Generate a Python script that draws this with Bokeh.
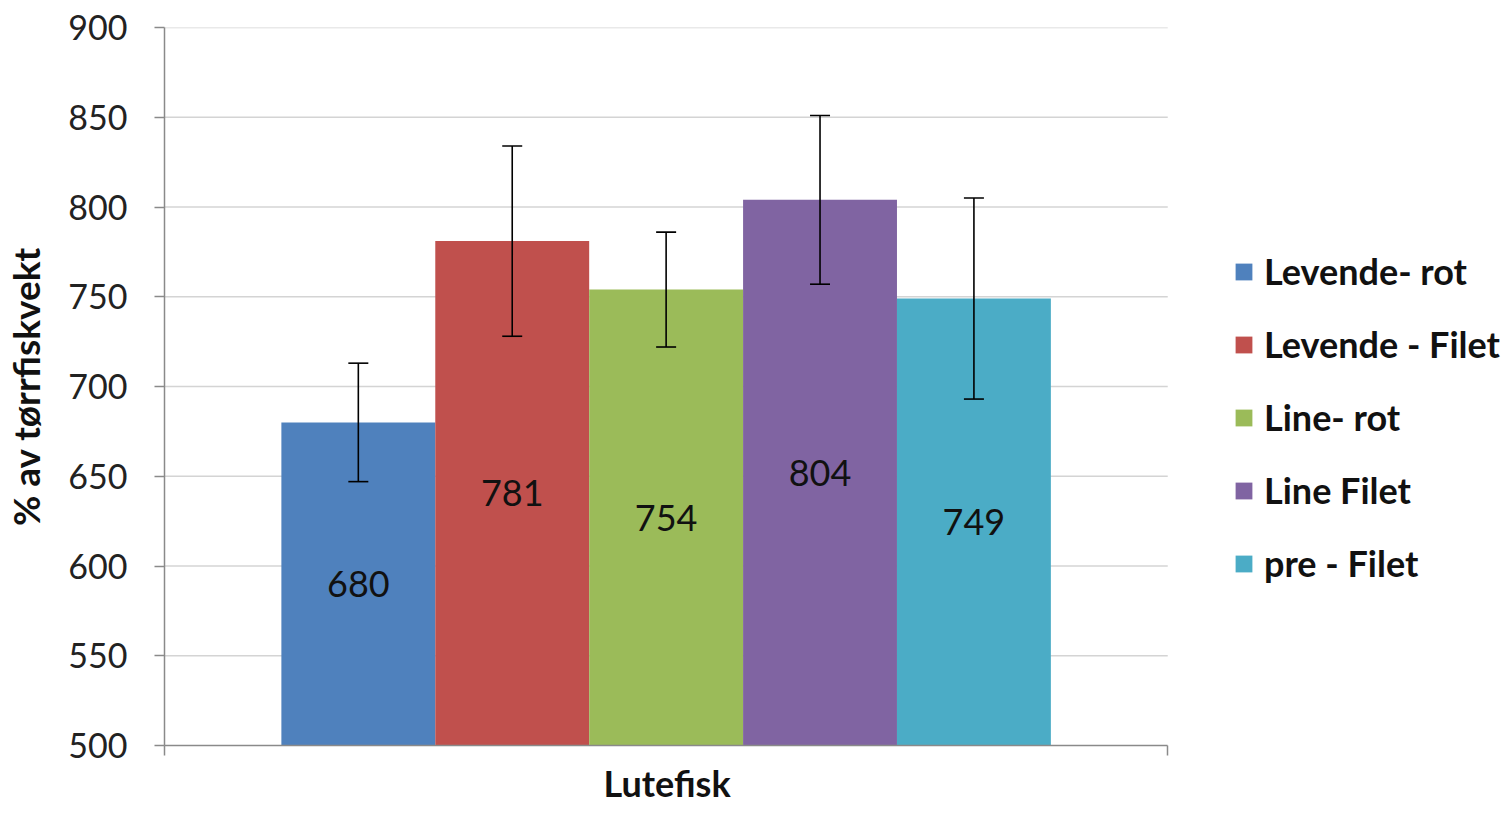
from bokeh.plotting import figure
from bokeh.models import (Range1d, FixedTicker, Whisker, ColumnDataSource, Legend,
                          LegendItem, TeeHead, Title)
from bokeh.core.properties import value
from bokeh.embed import file_html
from bokeh.resources import INLINE

# ---- data ----
category = "Lutefisk"
series = ["Levende- rot", "Levende - Filet", "Line- rot", "Line Filet", "pre - Filet"]
values = [680, 781, 754, 804, 749]
errors = [33, 53, 32, 47, 56]
colors = ["#4F81BD", "#C0504D", "#9BBB59", "#8064A2", "#4BACC6"]
y_ticks = [500, 550, 600, 650, 700, 750, 800, 850, 900]
y_title = "% av tørrfiskvekt"

Y0, Y1 = y_ticks[0], y_ticks[-1]
bar_w = 0.1534
n = len(series)
xs = [0.5 + (i - (n - 1) / 2) * bar_w for i in range(n)]

# layout: plot area 1004px wide, legend space to its right inside the same frame
W, H = 1503, 807
LEFT, TOP, BOTTOM = 163, 27, 59
PLOT_W = 1004
X_END = (W - LEFT) / PLOT_W

src = ColumnDataSource(dict(
    x=xs, top=values, color=colors, name=series,
    upper=[v + e for v, e in zip(values, errors)],
    lower=[v - e for v, e in zip(values, errors)],
    ymid=[(Y0 + v) / 2 for v in values],
    txt=[str(v) for v in values],
))

p = figure(width=W, height=H, output_backend="svg", toolbar_location=None,
           x_range=Range1d(0, X_END), y_range=Range1d(Y0, Y1),
           min_border_left=LEFT, min_border_top=TOP, min_border_bottom=BOTTOM,
           min_border_right=0)
p.outline_line_color = None
p.background_fill_color = "white"
p.border_fill_color = "white"

# gridlines limited to the plot area
p.segment(x0=0, x1=1, y0=y_ticks[1:], y1=y_ticks[1:], line_color="#d4d4d4",
          line_width=1.5, level="underlay")

renderers = []
for i in range(n):
    r = p.vbar(x=[xs[i]], top=[values[i]], bottom=Y0, width=bar_w,
               fill_color=colors[i], line_color=None)
    renderers.append(r)

p.text(x="x", y="ymid", text="txt", source=src, text_align="center",
       text_baseline="middle", text_font=value("Lato"), text_font_size="36px",
       text_color="#111111")

w = Whisker(base="x", upper="upper", lower="lower", source=src, level="overlay",
            line_color="black", line_width=1.6,
            upper_head=TeeHead(size=20, line_color="black", line_width=1.6),
            lower_head=TeeHead(size=20, line_color="black", line_width=1.6))
p.add_layout(w)

# axes
p.yaxis.ticker = FixedTicker(ticks=y_ticks)
p.yaxis.major_label_text_font = "Lato"
p.yaxis.major_label_text_font_size = "34px"
p.yaxis.major_label_text_color = "#222222"
p.yaxis.major_tick_out = 10
p.yaxis.major_tick_in = 0
p.yaxis.minor_tick_line_color = None
p.yaxis.axis_line_color = "#8a8a8a"
p.yaxis.axis_line_width = 1.5
p.yaxis.major_tick_line_color = "#8a8a8a"
p.yaxis.major_tick_line_width = 1.5
p.yaxis.major_label_standoff = 27
p.yaxis.axis_label = y_title
p.yaxis.axis_label_text_font = "Lato"
p.yaxis.axis_label_text_font_style = "bold"
p.yaxis.axis_label_text_font_size = "37px"
p.yaxis.axis_label_text_color = "#111111"
p.yaxis.axis_label_standoff = 17

p.xaxis.ticker = FixedTicker(ticks=[0, 1])
p.xaxis.bounds = (0, 1)
p.xaxis.major_label_overrides = {0: "", 1: ""}
p.xaxis.major_label_text_font_size = "0px"
p.xaxis.major_label_standoff = 0
p.xaxis.major_tick_out = 10
p.xaxis.major_tick_in = 0
p.xaxis.minor_tick_line_color = None
p.xaxis.axis_line_color = "#8a8a8a"
p.xaxis.axis_line_width = 1.5
p.xaxis.major_tick_line_color = "#8a8a8a"
p.xaxis.major_tick_line_width = 1.5

p.xgrid.grid_line_color = None
p.ygrid.grid_line_color = None

# category title centred under the plot area (not under the legend space)
x_title = Title(text=category, align="left", offset=PLOT_W / 2 - 63,
                text_font="Lato", text_font_style="bold", text_font_size="36px",
                text_color="#111111", standoff=6)
p.add_layout(x_title, "below")

legend = Legend(items=[LegendItem(label=series[i], renderers=[renderers[i]]) for i in range(n)],
                location=(1069, 160), padding=0, margin=0, spacing=29,
                glyph_width=21, glyph_height=21, label_standoff=10,
                label_text_font="Lato", label_text_font_style="bold",
                label_text_font_size="36px", label_text_color="#111111",
                border_line_color=None, background_fill_alpha=0)
p.add_layout(legend, "center")

open("out.html", "w").write(file_html(p, INLINE))
